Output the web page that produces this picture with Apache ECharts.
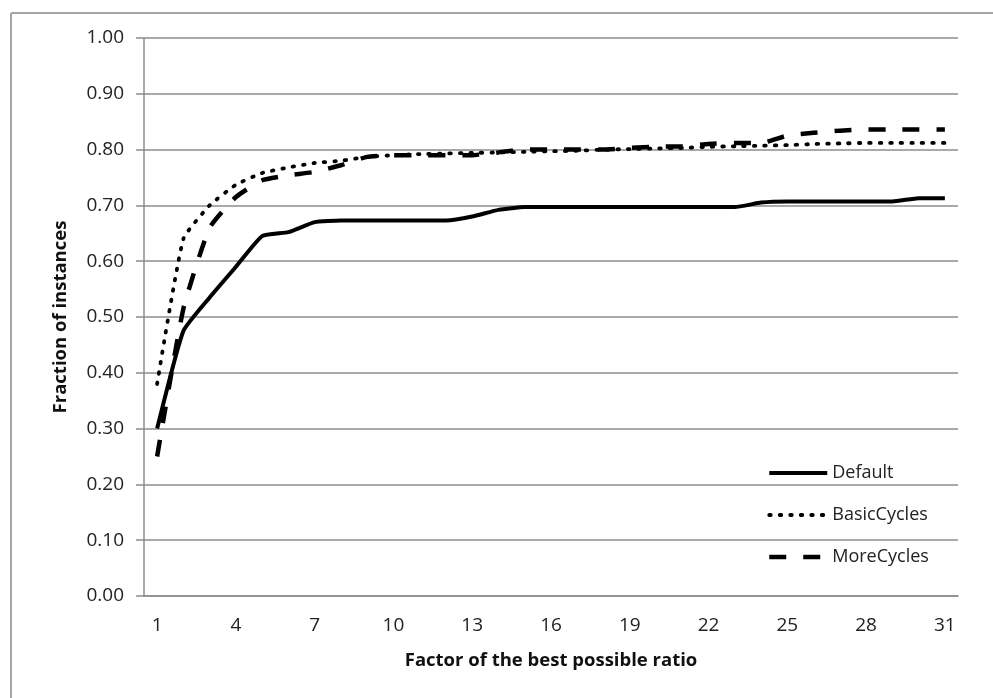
<!DOCTYPE html>
<html>
<head>
<meta charset="utf-8">
<script src="https://cdn.jsdelivr.net/npm/echarts@6/dist/echarts.min.js"></script>
<style>
html,body{margin:0;padding:0;background:#fff;}
#chart{width:993px;height:698px;}
</style>
</head>
<body>
<div id="chart"></div>
<script>
const categories = ["1","2","3","4","5","6","7","8","9","10","11","12","13","14","15","16","17","18","19","20","21","22","23","24","25","26","27","28","29","30","31"];
const defaultVals = [0.30,0.475,0.535,0.59,0.645,0.652,0.67,0.673,0.673,0.673,0.673,0.673,0.68,0.692,0.697,0.697,0.697,0.697,0.697,0.697,0.697,0.697,0.697,0.705,0.707,0.707,0.707,0.707,0.707,0.713,0.713];
const basicCycles = [0.38,0.64,0.70,0.737,0.758,0.768,0.776,0.78,0.787,0.79,0.792,0.793,0.794,0.795,0.796,0.797,0.798,0.80,0.801,0.802,0.803,0.805,0.806,0.807,0.808,0.81,0.811,0.812,0.812,0.812,0.812];
const moreCycles = [0.25,0.515,0.66,0.715,0.745,0.754,0.76,0.772,0.787,0.79,0.79,0.79,0.79,0.795,0.80,0.80,0.80,0.80,0.803,0.805,0.806,0.81,0.812,0.812,0.825,0.83,0.834,0.836,0.836,0.836,0.836];
const seriesNames = ["Default","BasicCycles","MoreCycles"];

const solidStyle = {color: '#000', width: 4, type: 'solid'};
const dotStyle = {color: '#000', width: 3.8, type: [1.5, 9], cap: 'round'};
const dashStyle = {color: '#000', width: 4.5, type: [17, 17]};
const lineStyles = [solidStyle, dotStyle, dashStyle];

const chart = echarts.init(document.getElementById('chart'));
const font = '"Open Sans", "DejaVu Sans", sans-serif';
chart.setOption({
  animation: false,
  backgroundColor: '#fff',
  grid: {left: 144, right: 35, top: 38, bottom: 102},
  graphic: [
    {type: 'line', shape: {x1: 11, y1: 13, x2: 993, y2: 13}, style: {stroke: '#a6a6a6', lineWidth: 2}},
    {type: 'line', shape: {x1: 11, y1: 13, x2: 11, y2: 698}, style: {stroke: '#a6a6a6', lineWidth: 2}}
  ],
  legend: {
    orient: 'vertical',
    left: 762, top: 459,
    itemWidth: 58, itemHeight: 16, itemGap: 24,
    textStyle: {fontFamily: font, fontSize: 18, color: '#222'},
    itemStyle: {color: 'transparent', borderWidth: 0, opacity: 0},
    data: seriesNames.map((n, i) => ({name: n, lineStyle: lineStyles[i], itemStyle: {opacity: 0}}))
  },
  xAxis: {
    type: 'category',
    data: categories,
    boundaryGap: true,
    name: 'Factor of the best possible ratio',
    nameLocation: 'middle',
    nameGap: 55,
    nameTextStyle: {fontFamily: font, fontSize: 18.5, fontWeight: 'bold', color: '#111'},
    axisLine: {lineStyle: {color: '#8c8c8c', width: 1.5}},
    axisTick: {show: false},
    axisLabel: {interval: 2, fontFamily: font, fontSize: 19, color: '#222', margin: 20}
  },
  yAxis: {
    type: 'value',
    min: 0, max: 1, interval: 0.1,
    name: 'Fraction of instances',
    nameLocation: 'middle',
    nameGap: 74,
    nameTextStyle: {fontFamily: font, fontSize: 18.5, fontWeight: 'bold', color: '#111'},
    axisLine: {show: true, lineStyle: {color: '#8c8c8c', width: 1.5}},
    axisTick: {show: true, length: 8, lineStyle: {color: '#8c8c8c', width: 1.5}},
    axisLabel: {formatter: v => v.toFixed(2), fontFamily: font, fontSize: 19, color: '#222', margin: 20},
    splitLine: {lineStyle: {color: '#8c8c8c', width: 1.5}}
  },
  series: [
    {name: seriesNames[0], type: 'line', data: defaultVals, symbol: 'none', smooth: 0.15,
     lineStyle: solidStyle, itemStyle: {color: '#000'}},
    {name: seriesNames[1], type: 'line', data: basicCycles, symbol: 'none', smooth: 0.15,
     lineStyle: dotStyle, itemStyle: {color: '#000'}},
    {name: seriesNames[2], type: 'line', data: moreCycles, symbol: 'none', smooth: 0.15,
     lineStyle: dashStyle, itemStyle: {color: '#000'}}
  ]
});
</script>
</body>
</html>
